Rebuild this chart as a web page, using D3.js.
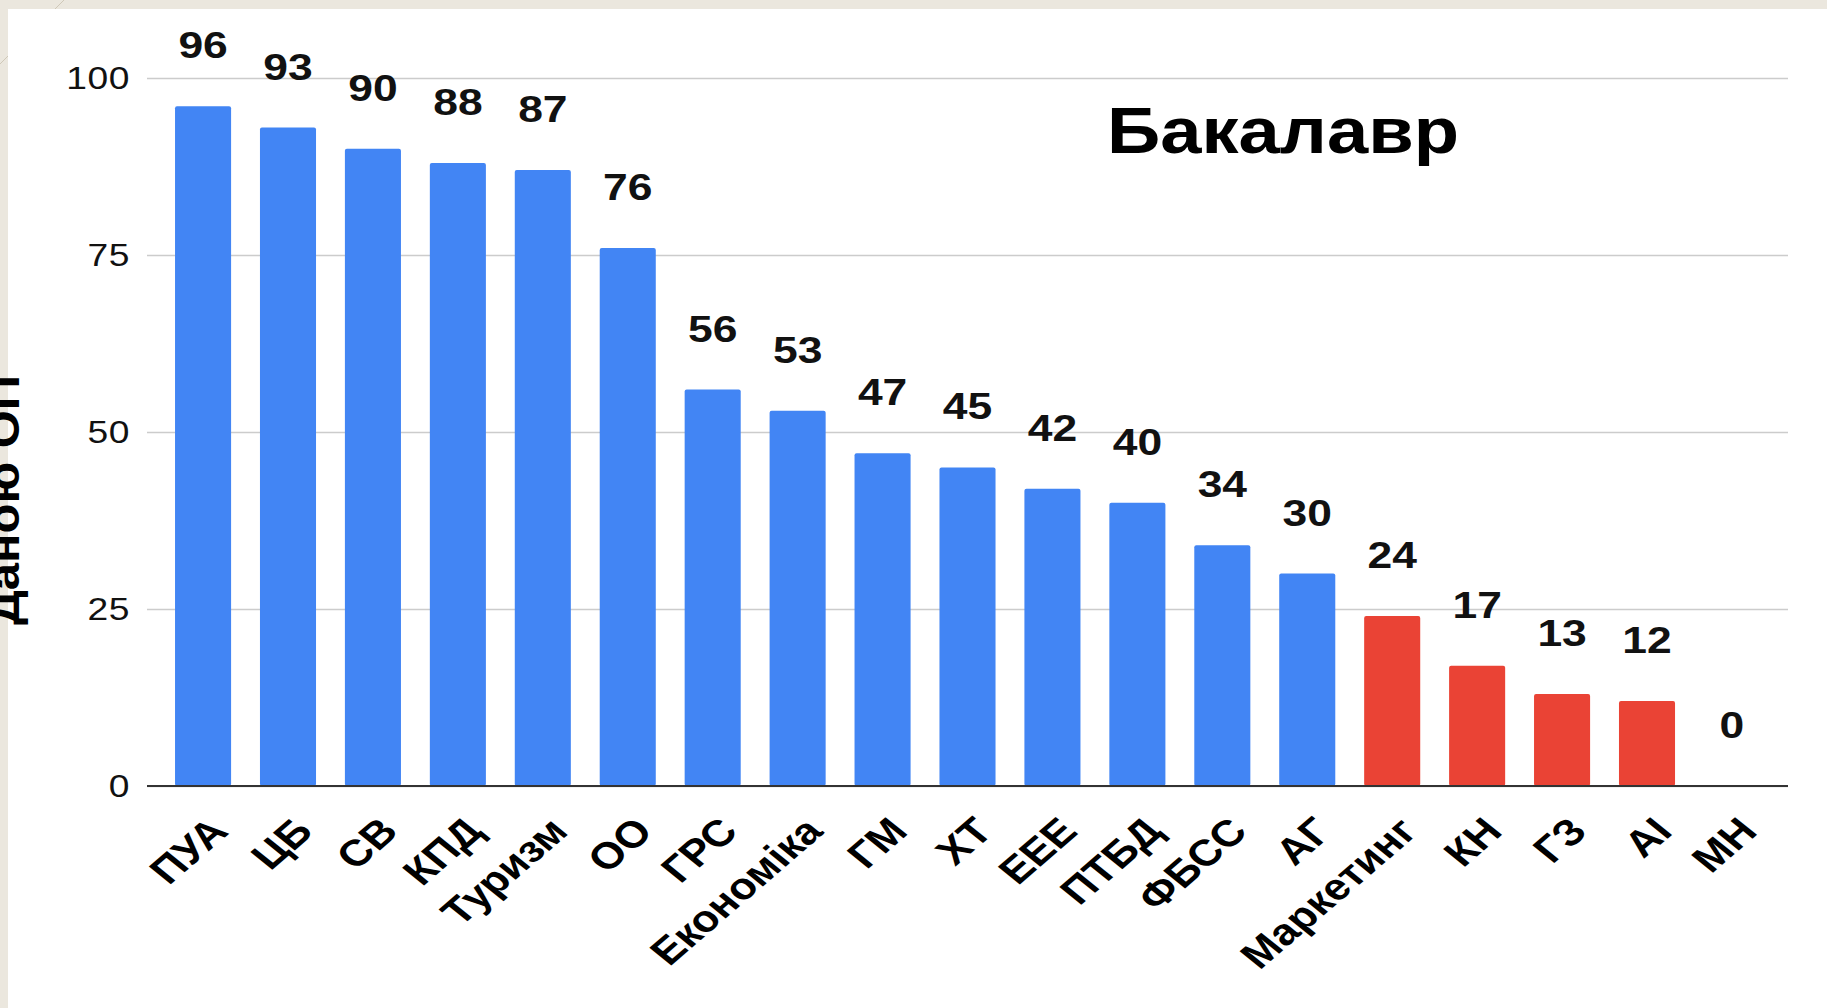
<!DOCTYPE html>
<html lang="uk">
<head>
<meta charset="UTF-8">
<title>Бакалавр</title>
<script src="https://cdnjs.cloudflare.com/ajax/libs/d3/7.8.5/d3.min.js"></script>
<style>
    body {
        margin: 0;
        padding: 0;
        background: #ebe7de;
        overflow: hidden;
    }
    svg text {
        font-family: "Liberation Sans", Arial, sans-serif;
    }
    .grid line {
        stroke: #cccccc;
        stroke-width: 1.5px;
    }
    .grid .domain {
        display: none;
    }
</style>
</head>
<body>
<div id="chart"></div>
<script>
    const categories = ["ПУА", "ЦБ", "СВ", "КПД", "Туризм", "ОО", "ГРС", "Економіка", "ГМ", "ХТ",
                        "ЕЕЕ", "ПТБД", "ФБСС", "АГ", "Маркетинг", "КН", "ГЗ", "АІ", "МН"];
    const values = [96, 93, 90, 88, 87, 76, 56, 53, 47, 45, 42, 40, 34, 30, 24, 17, 13, 12, 0];
    const yTicks = [0, 25, 50, 75, 100];
    const lowLimit = 25;   // below this the bar is red

    const W = 1827, H = 1008;
    const plot = { left: 147, right: 1788, top: 78, bottom: 786 };
    const stretch = 1.2;   // the source picture was pulled wider than tall

    const svg = d3.select("#chart").append("svg")
        .attr("width", W)
        .attr("height", H);

    // slide frame
    svg.append("rect").attr("width", W).attr("height", H).attr("fill", "#ebe7de");
    svg.append("line")
        .attr("x1", 0).attr("y1", 64).attr("x2", 64).attr("y2", 0)
        .attr("stroke", "#cfc8b8").attr("stroke-width", 1);
    svg.append("rect")
        .attr("x", 8).attr("y", 9)
        .attr("width", W - 8).attr("height", H - 9)
        .attr("fill", "#ffffff");

    const x = d3.scaleBand()
        .domain(categories)
        .range([plot.left, plot.right])
        .paddingInner(0.34)
        .paddingOuter(0.33);

    const y = d3.scaleLinear()
        .domain([0, 100])
        .range([plot.bottom, plot.top]);

    // gridlines + tick labels
    const grid = svg.append("g")
        .attr("class", "grid")
        .attr("transform", `translate(${plot.left},0)`)
        .call(d3.axisLeft(y).tickValues(yTicks).tickSize(-(plot.right - plot.left)).tickPadding(17));

    grid.selectAll(".tick text")
        .attr("x", -17 / stretch)
        .attr("dy", "0.35em")
        .attr("transform", `scale(${stretch},1)`)
        .attr("fill", "#111")
        .style("font-size", "31px")
        .style("letter-spacing", "0.5px")
        .style("font-family", "'Liberation Sans', Arial, sans-serif");

    // bars
    svg.append("g").selectAll("rect")
        .data(categories)
        .join("rect")
        .attr("x", (d) => x(d))
        .attr("width", x.bandwidth())
        .attr("y", (d, i) => y(values[i]))
        .attr("height", (d, i) => y(0) - y(values[i]))
        .attr("rx", 2)
        .attr("fill", (d, i) => values[i] < lowLimit ? "#ea4335" : "#4285f4");

    // baseline
    svg.append("line")
        .attr("x1", plot.left).attr("x2", plot.right)
        .attr("y1", y(0)).attr("y2", y(0))
        .attr("stroke", "#333").attr("stroke-width", 2);

    // value labels
    svg.append("g").selectAll("text")
        .data(categories)
        .join("text")
        .attr("transform", (d, i) => `translate(${x(d) + x.bandwidth() / 2},${y(values[i]) - 48}) scale(${stretch},1)`)
        .attr("text-anchor", "middle")
        .style("font-size", "37px")
        .style("font-weight", "bold")
        .attr("fill", "#111")
        .text((d, i) => values[i]);

    // category labels, slanted
    svg.append("g").selectAll("text")
        .data(categories)
        .join("text")
        .attr("transform", (d) => `translate(${x(d) + x.bandwidth() / 2 + 27},833) scale(${stretch},1) rotate(-46)`)
        .attr("text-anchor", "end")
        .style("font-size", "37px")
        .style("font-weight", "bold")
        .attr("fill", "#000")
        .text((d) => d);

    // title
    svg.append("text")
        .attr("x", 1107)
        .attr("y", 153)
        .attr("textLength", 352)
        .attr("lengthAdjust", "spacingAndGlyphs")
        .style("font-size", "64px")
        .style("font-weight", "bold")
        .attr("fill", "#000")
        .text("Бакалавр");

    // y axis title, partly off the slide
    svg.append("text")
        .attr("transform", "translate(19,500) rotate(-90)")
        .attr("text-anchor", "middle")
        .attr("textLength", 250)
        .attr("lengthAdjust", "spacingAndGlyphs")
        .style("font-size", "44px")
        .style("font-weight", "bold")
        .attr("fill", "#000")
        .text("Даною ОП");
</script>
</body>
</html>
